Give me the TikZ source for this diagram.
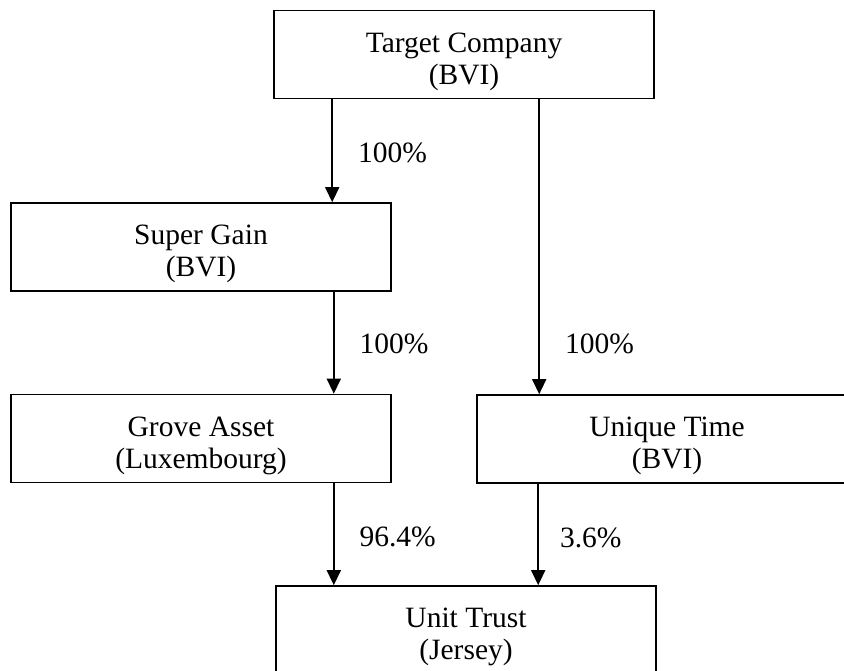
\documentclass[tikz,border=0pt]{standalone}
\usepackage{fontspec}
\setmainfont{Liberation Serif}
\usepackage{tikz}
\usetikzlibrary{arrows.meta}
\newcommand{\firmtext}[2]{\rule{0pt}{34pt}#1\\#2}

\begin{document}
\begin{tikzpicture}[
    firm/.style={draw, line width=1.6pt, minimum width=380pt, minimum height=88pt,
                 inner sep=0pt, align=center, font=\fontsize{29.5}{32}\selectfont},
    own/.style={line width=1.6pt, -{Triangle[width=14pt,length=15pt]}},
    pct/.style={anchor=west, inner sep=0pt, xshift=25pt, font=\fontsize{29.5}{32}\selectfont}]
  \useasboundingbox (0,0) rectangle (844pt,-671pt);

  \node[firm] (target) at (464pt,-54.5pt) {\firmtext{Target Company}{(BVI)}};
  \node[firm] (super)  at (201pt,-247pt)  {\firmtext{Super Gain}{(BVI)}};
  \node[firm] (grove)  at (201pt,-438.5pt) {\firmtext{Grove Asset}{(Luxembourg)}};
  \node[firm] (unique) at (667pt,-439pt)  {\firmtext{Unique Time}{(BVI)}};
  \node[firm] (trust)  at (466pt,-630pt)  {\firmtext{Unit Trust}{(Jersey)}};

  \draw[own] ([xshift=59pt]target.south west) -- ([xshift=59pt]target.south west |- super.north)
    node[pct, pos=0.52] {100\%};
  \draw[own] ([xshift=-58pt]super.south east) -- ([xshift=-58pt]super.south east |- grove.north)
    node[pct, pos=0.51] {100\%};
  \draw[own] ([xshift=266pt]target.south west) -- ([xshift=266pt]target.south west |- unique.north)
    node[pct, pos=0.83] {100\%};
  \draw[own] ([xshift=-58pt]grove.south east) -- ([xshift=-58pt]grove.south east |- trust.north)
    node[pct, pos=0.53] {96.4\%};
  \draw[own] ([xshift=62pt]unique.south west) -- ([xshift=62pt]unique.south west |- trust.north)
    node[pct, pos=0.53, xshift=-4pt] {3.6\%};
\end{tikzpicture}
\end{document}
